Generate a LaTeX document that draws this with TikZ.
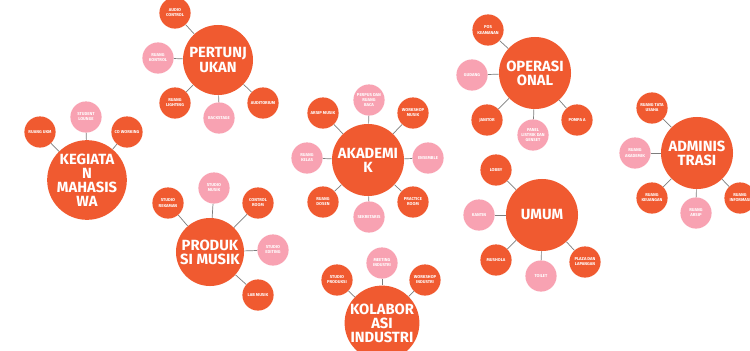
\documentclass[tikz,border=0pt]{standalone}
\usepackage{fontspec}
\setmainfont{Fira Sans}
\usepackage{tikz}
\definecolor{hubred}{RGB}{240,90,48}
\definecolor{leafpink}{RGB}{248,162,178}
\definecolor{linkgray}{RGB}{125,125,125}

\begin{document}
\begin{tikzpicture}[
  x=0.025cm, y=-0.025cm,
  hub/.style={
    circle, fill=hubred, text=white, minimum size=1.8cm,
    inner sep=0pt, align=center,
    font=\fontsize{10.5}{10}\selectfont\bfseries
  },
  leaf/.style={
    circle, fill=hubred, text=white, minimum size=0.78cm,
    inner sep=0pt, align=center,
    font=\fontsize{3}{3.6}\selectfont\bfseries
  },
  pinkleaf/.style={leaf, fill=leafpink},
  link/.style={draw=linkgray, line width=0.5pt}
]
\fill[white] (0,0) rectangle (750,350);
\clip (0,0) rectangle (750,350);

% Pertunjukan
\node[hub, minimum size=1.75cm] (pertunjukan) at (218,60) {PERTUNJ\\UKAN};
\node[leaf] (audiocontrol) at (175,13) {AUDIO\\CONTROL};
\node[pinkleaf] (ruangkontrol) at (158,58) {RUANG\\KONTROL};
\node[leaf] (ruanglighting) at (175,103) {RUANG\\LIGHTING};
\node[pinkleaf] (backstage) at (219,118) {BACKSTAGE};
\node[leaf] (auditorium) at (263,103) {AUDITORIUM};

% Kegiatan mahasiswa
\node[hub] (kegiatan) at (87,180) {KEGIATA\\N\\MAHASIS\\WA};
\node[leaf] (ruangukm) at (40,132) {RUANG UKM};
\node[pinkleaf] (lounge) at (86,117) {STUDENT\\LOUNGE};
\node[leaf] (coworking) at (127,132) {CO WORKING};

% Produksi musik
\node[hub, minimum size=1.7cm] (produksi) at (210,252) {PRODUK\\SI MUSIK};
\node[leaf] (rekaman) at (168,203) {STUDIO\\REKAMAN};
\node[pinkleaf] (studiomusik) at (214,188) {STUDIO\\MUSIK};
\node[leaf] (controlroom) at (258,203) {CONTROL\\ROOM};
\node[pinkleaf] (editing) at (273,250) {STUDIO\\EDITING};
\node[leaf] (labmusik) at (258,295) {LAB MUSIK};

% Akademik
\node[hub] (akademik) at (368,160) {AKADEMI\\K};
\node[leaf] (arsipmusik) at (323,113) {ARSIP MUSIK};
\node[pinkleaf] (perpus) at (369,100) {PERPUS DAN\\RUANG\\BACA};
\node[leaf] (workshopmusik) at (413,113) {WORKSHOP\\MUSIK};
\node[pinkleaf] (ensemble) at (428,158) {ENSEMBLE};
\node[leaf] (practice) at (413,202) {PRACTICE\\ROOM};
\node[pinkleaf] (sekretaris) at (369,217) {SEKRETARIS};
\node[leaf] (dosen) at (323,202) {RUANG\\DOSEN};
\node[pinkleaf] (kelas) at (307,158) {RUANG\\KELAS};

% Kolaborasi industri
\node[hub] (kolaborasi) at (382,323) {KOLABOR\\ASI\\INDUSTRI};
\node[leaf] (produksiind) at (337,280) {STUDIO\\PRODUKSI};
\node[pinkleaf] (meeting) at (382,263) {MEETING\\INDUSTRI};
\node[leaf] (workshopind) at (425,280) {WORKSHOP\\INDUSTRI};

% Operasional
\node[hub] (operasional) at (535,73) {OPERASI\\ONAL};
\node[leaf] (pos) at (488,30) {POS\\KEAMANAN};
\node[pinkleaf] (gudang) at (472,75) {GUDANG};
\node[leaf] (janitor) at (487,120) {JANITOR};
\node[pinkleaf] (panel) at (533,135) {PANEL\\LISTRIK DAN\\GENSET};
\node[leaf] (pompa) at (577,120) {POMPA A};

% Umum
\node[hub] (umum) at (542,215) {UMUM};
\node[leaf] (lobby) at (496,170) {LOBBY};
\node[pinkleaf] (kantin) at (479,215) {KANTIN};
\node[leaf] (mushola) at (496,260) {MUSHOLA};
\node[pinkleaf] (toilet) at (541,276) {TOILET};
\node[leaf] (plaza) at (585,262) {PLAZA DAN\\LAPANGAN};

% Administrasi
\node[hub] (administrasi) at (697,153) {ADMINIS\\TRASI};
\node[leaf] (tatausaha) at (652,108) {RUANG TATA\\USAHA};
\node[pinkleaf] (ruangakademik) at (635,153) {RUANG\\AKADEMIK};
\node[leaf] (keuangan) at (652,198) {RUANG\\KEUANGAN};
\node[pinkleaf] (arsip) at (696,213) {RUANG\\ARSIP};
\node[leaf] (informasi) at (740,198) {RUANG\\INFORMASI};

% Links to hubs
\draw[link] (audiocontrol) -- (pertunjukan);
\draw[link] (ruangkontrol) -- (pertunjukan);
\draw[link] (ruanglighting) -- (pertunjukan);
\draw[link] (backstage) -- (pertunjukan);
\draw[link] (auditorium) -- (pertunjukan);

\draw[link] (ruangukm) -- (kegiatan);
\draw[link] (lounge) -- (kegiatan);
\draw[link] (coworking) -- (kegiatan);

\draw[link] (rekaman) -- (produksi);
\draw[link] (studiomusik) -- (produksi);
\draw[link] (controlroom) -- (produksi);
\draw[link] (editing) -- (produksi);
\draw[link] (labmusik) -- (produksi);

\draw[link] (arsipmusik) -- (akademik);
\draw[link] (perpus) -- (akademik);
\draw[link] (workshopmusik) -- (akademik);
\draw[link] (ensemble) -- (akademik);
\draw[link] (practice) -- (akademik);
\draw[link] (sekretaris) -- (akademik);
\draw[link] (dosen) -- (akademik);
\draw[link] (kelas) -- (akademik);

\draw[link] (produksiind) -- (kolaborasi);
\draw[link] (meeting) -- (kolaborasi);
\draw[link] (workshopind) -- (kolaborasi);

\draw[link] (pos) -- (operasional);
\draw[link] (gudang) -- (operasional);
\draw[link] (janitor) -- (operasional);
\draw[link] (panel) -- (operasional);
\draw[link] (pompa) -- (operasional);

\draw[link] (lobby) -- (umum);
\draw[link] (kantin) -- (umum);
\draw[link] (mushola) -- (umum);
\draw[link] (toilet) -- (umum);
\draw[link] (plaza) -- (umum);

\draw[link] (tatausaha) -- (administrasi);
\draw[link] (ruangakademik) -- (administrasi);
\draw[link] (keuangan) -- (administrasi);
\draw[link] (arsip) -- (administrasi);
\draw[link] (informasi) -- (administrasi);

\end{tikzpicture}
\end{document}
